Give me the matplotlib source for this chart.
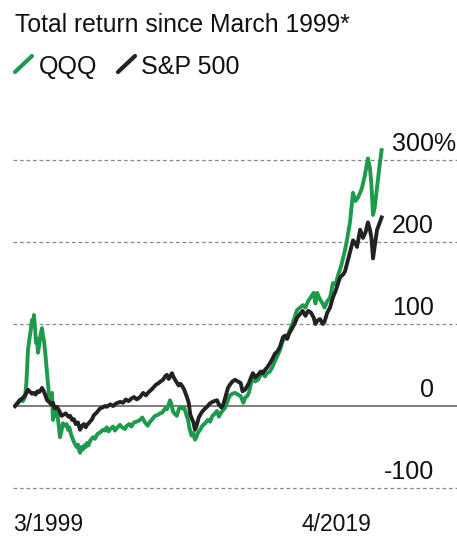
import numpy as np
import matplotlib
matplotlib.use("Agg")
import matplotlib.pyplot as plt
from matplotlib.lines import Line2D

plt.rcParams['font.family'] = ['Liberation Sans', 'DejaVu Sans']

# Du lieu doc tu hinh (nam thap phan, % tong loi nhuan)
qqq_years = [1999.17, 1999.3, 1999.45, 1999.6, 1999.72, 1999.8, 1999.88, 1999.95, 2000.03, 2000.1,
             2000.16, 2000.21, 2000.27, 2000.32, 2000.38, 2000.43, 2000.5, 2000.58, 2000.65, 2000.7,
             2000.76, 2000.85, 2000.93, 2001.0, 2001.04, 2001.1, 2001.2, 2001.25, 2001.32, 2001.4,
             2001.47, 2001.55, 2001.64, 2001.72, 2001.8, 2001.9, 2002.0, 2002.08, 2002.15, 2002.25,
             2002.35, 2002.45, 2002.55, 2002.62, 2002.7, 2002.74, 2002.82, 2002.9, 2002.98, 2003.05,
             2003.12, 2003.2, 2003.3, 2003.45, 2003.55, 2003.7, 2003.85, 2003.99, 2004.1, 2004.2,
             2004.3, 2004.4, 2004.55, 2004.65, 2004.75, 2004.93, 2005.05, 2005.2, 2005.3, 2005.45,
             2005.55, 2005.7, 2005.85, 2006.03, 2006.15, 2006.3, 2006.45, 2006.55, 2006.7, 2006.85,
             2007.0, 2007.12, 2007.25, 2007.4, 2007.5, 2007.6, 2007.67, 2007.74, 2007.84, 2007.95,
             2008.05, 2008.15, 2008.22, 2008.35, 2008.45, 2008.55, 2008.66, 2008.75, 2008.85, 2008.95,
             2009.04, 2009.12, 2009.2, 2009.32, 2009.45, 2009.6, 2009.75, 2009.87, 2010.0, 2010.1,
             2010.25, 2010.35, 2010.45, 2010.58, 2010.7, 2010.85, 2010.96, 2011.1, 2011.24, 2011.4,
             2011.55, 2011.62, 2011.7, 2011.79, 2011.9, 2012.0, 2012.1, 2012.22, 2012.35, 2012.5,
             2012.65, 2012.75, 2012.88, 2012.99, 2013.15, 2013.3, 2013.43, 2013.54, 2013.7, 2013.87,
             2014.0, 2014.1, 2014.2, 2014.35, 2014.5, 2014.64, 2014.8, 2014.97, 2015.1, 2015.25,
             2015.4, 2015.55, 2015.65, 2015.74, 2015.9, 2016.07, 2016.15, 2016.3, 2016.45, 2016.61,
             2016.75, 2016.9, 2017.05, 2017.27, 2017.4, 2017.55, 2017.71, 2017.85, 2017.98, 2018.1,
             2018.2, 2018.35, 2018.53, 2018.64, 2018.72, 2018.81, 2018.9, 2019.03, 2019.15, 2019.28]
qqq_values = [0, 4, 8, 6, 11, 30, 68, 80, 92, 105,
              100, 111, 95, 77, 82, 65, 75, 88, 95, 86,
              80, 60, 40, 22, 7, 12, 16, -17, -8, -12,
              -5, -20, -38, -30, -21, -24, -22, -29, -26, -35,
              -41, -46, -50, -47, -55, -57, -50, -53, -48, -50,
              -45, -48, -42, -38, -40, -34, -32, -29, -30, -26,
              -31, -28, -25, -30, -27, -23, -26, -28, -24, -22,
              -25, -20, -19, -17, -14, -20, -24, -20, -16, -12,
              -11, -9, -8, -3, -4, 2, 7, 3, -7, -10,
              -12, -4, -1, -3, -2, -9, -17, -28, -36, -33,
              -41, -38, -33, -29, -24, -21, -17, -19, -12, -10,
              -6, -13, -9, -5, -2, 7, 13, 15, 16, 14,
              12, 8, 4, 10, 12, 16, 26, 35, 30, 32,
              38, 42, 36, 40, 42, 48, 55, 60, 68, 80,
              84, 82, 90, 98, 108, 117, 120, 123, 120, 128,
              133, 138, 125, 138, 130, 124, 120, 128, 132, 150,
              148, 160, 170, 190, 205, 225, 260, 250, 254, 260,
              266, 280, 302, 290, 270, 233, 242, 267, 290, 312]

sp_years = [1999.17, 1999.3, 1999.45, 1999.6, 1999.75, 1999.88, 2000.0, 2000.1, 2000.2, 2000.3,
            2000.4, 2000.5, 2000.6, 2000.65, 2000.75, 2000.85, 2000.93, 2001.04, 2001.15, 2001.25,
            2001.35, 2001.47, 2001.6, 2001.72, 2001.8, 2001.95, 2002.1, 2002.2, 2002.3, 2002.4,
            2002.5, 2002.62, 2002.74, 2002.85, 2002.95, 2003.05, 2003.12, 2003.25, 2003.4, 2003.5,
            2003.65, 2003.83, 2003.95, 2004.1, 2004.2, 2004.4, 2004.55, 2004.7, 2004.93, 2005.1,
            2005.25, 2005.4, 2005.55, 2005.7, 2005.85, 2006.03, 2006.2, 2006.35, 2006.5, 2006.65,
            2006.74, 2006.9, 2007.05, 2007.15, 2007.29, 2007.4, 2007.5, 2007.6, 2007.7, 2007.78,
            2007.85, 2007.95, 2008.06, 2008.15, 2008.25, 2008.35, 2008.45, 2008.6, 2008.7, 2008.78,
            2008.88, 2008.96, 2009.04, 2009.12, 2009.25, 2009.4, 2009.55, 2009.7, 2009.85, 2010.0,
            2010.1, 2010.25, 2010.35, 2010.5, 2010.58, 2010.7, 2010.85, 2010.96, 2011.1, 2011.24,
            2011.4, 2011.55, 2011.65, 2011.79, 2011.9, 2012.0, 2012.1, 2012.22, 2012.35, 2012.5,
            2012.65, 2012.75, 2012.88, 2013.0, 2013.15, 2013.3, 2013.43, 2013.55, 2013.7, 2013.87,
            2014.0, 2014.1, 2014.2, 2014.35, 2014.5, 2014.65, 2014.8, 2014.95, 2015.1, 2015.25,
            2015.4, 2015.55, 2015.65, 2015.75, 2015.9, 2016.05, 2016.15, 2016.3, 2016.45, 2016.6,
            2016.75, 2016.9, 2017.0, 2017.15, 2017.27, 2017.4, 2017.55, 2017.71, 2017.85, 2017.93,
            2018.02, 2018.1, 2018.26, 2018.4, 2018.53, 2018.64, 2018.72, 2018.81, 2018.9, 2019.03,
            2019.15, 2019.28]
sp_values = [0, 3, 7, 10, 14, 20, 17, 15, 16, 14,
             18, 17, 20, 22, 18, 12, 7, 5, 2, 4,
             -3, -1, -6, -12, -11, -9, -13, -12, -17, -16,
             -22, -20, -29, -24, -22, -26, -23, -20, -16, -11,
             -8, -3, -2, 0, -1, 2, 0, 3, 5, 4,
             8, 6, 9, 11, 8, 11, 16, 13, 17, 20,
             22, 26, 28, 30, 32, 36, 38, 33, 37, 40,
             36, 32, 28, 25, 27, 24, 20, 11, 4, -10,
             -16, -20, -29, -25, -14, -8, -4, -1, 3, 5,
             6, 7, 2, -2, 1, 10, 22, 26, 30, 32,
             30, 28, 18, 20, 24, 28, 34, 40, 35, 38,
             42, 40, 44, 47, 52, 58, 64, 66, 72, 84,
             86, 82, 88, 94, 100, 108, 112, 116, 110, 116,
             114, 108, 100, 104, 106, 100, 103, 114, 120, 132,
             140, 150, 157, 160, 164, 175, 188, 202, 198, 194,
             205, 215, 205, 212, 224, 215, 205, 180, 195, 215,
             222, 230]

grid_levels = [300, 200, 100, -100]
tick_labels = ['300%', '200', '100', '0', '-100']
tick_values = [300, 200, 100, 0, -100]
x_labels = ['3/1999', '4/2019']

green = '#1e9a4c'
dark = '#222222'

W, H = 457, 537
fig = plt.figure(figsize=(W / 100, H / 100), dpi=100)

# Vung ve: tu pixel x=13 den 457, y=140 den 495
ax = fig.add_axes([13 / W, 1 - 495 / H, 444 / W, 355 / H])
ax.set_xlim(1999.06, 2023.415)
ax.set_ylim(-108.5, 324.4)
ax.axis('off')

for lv in grid_levels:
    ax.axhline(lv, color='#8a8a8a', lw=0.9, ls=(0, (3, 2.2)), zorder=1)
ax.axhline(0, color='#666666', lw=1.2, zorder=1)

ax.plot(qqq_years, qqq_values, color=green, lw=2.8, solid_joinstyle='round', zorder=3)
ax.plot(sp_years, sp_values, color=dark, lw=2.8, solid_joinstyle='round', zorder=4)

# Nhan truc y ben phai, nam tren duong luoi
tr = ax.get_yaxis_transform()
for lab, v in zip(tick_labels, tick_values):
    if lab.endswith('%'):
        ax.text((392 - 13) / 444, v + 11, lab, transform=tr, ha='left', va='baseline',
                fontsize=18, color='#111111')
    else:
        ax.text((434 - 13) / 444, v + 11, lab, transform=tr, ha='right', va='baseline',
                fontsize=18, color='#111111')

# Nhan truc x
fig.text(13 / W, 1 - 531 / H, x_labels[0], ha='left', va='baseline', fontsize=16.5, color='#111111')
fig.text(302 / W, 1 - 531 / H, x_labels[1], ha='left', va='baseline', fontsize=16.5, color='#111111')

# Tieu de va chu thich
fig.text(15 / W, 1 - 32 / H, 'Total return since March 1999*', ha='left', va='baseline',
         fontsize=17.8, color='#111111')
fig.add_artist(Line2D([15 / W, 32 / W], [1 - 72 / H, 1 - 56 / H], color=green, lw=3,
                      solid_capstyle='round', transform=fig.transFigure))
fig.text(39 / W, 1 - 74 / H, 'QQQ', ha='left', va='baseline', fontsize=18, color='#111111')
fig.add_artist(Line2D([118 / W, 135 / W], [1 - 72 / H, 1 - 56 / H], color=dark, lw=3,
                      solid_capstyle='round', transform=fig.transFigure))
fig.text(141 / W, 1 - 74 / H, 'S&P 500', ha='left', va='baseline', fontsize=18, color='#111111')

fig.savefig('out.png', dpi=100, facecolor='white')
